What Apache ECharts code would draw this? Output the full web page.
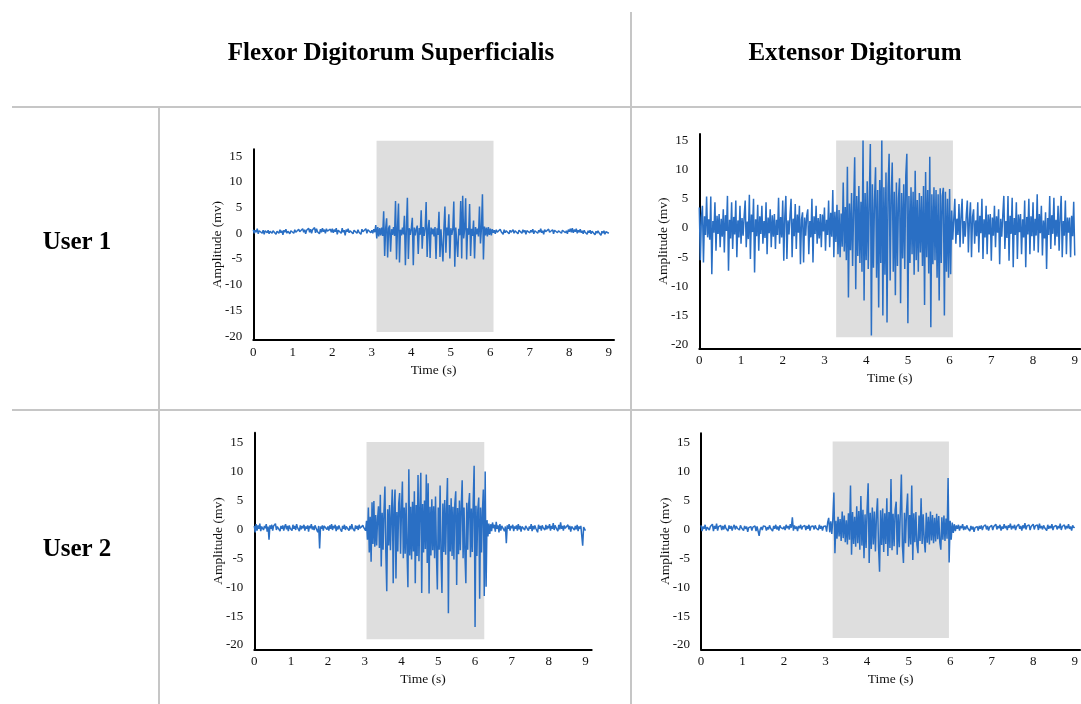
<!DOCTYPE html>
<html>
<head>
<meta charset="utf-8">
<script src="https://cdn.jsdelivr.net/npm/echarts@6/dist/echarts.min.js"></script>
<style>
html,body{margin:0;padding:0;background:#fff;}
#chart{width:1081px;height:704px;}
</style>
</head>
<body>
<div id="chart"></div>
<script>
// ---------------- DATA ----------------
const timeStep = 0.025; // seconds between samples
const xTickLabels = [0,1,2,3,4,5,6,7,8,9];
const yTickLabels = [-20,-15,-10,-5,0,5,10,15];
const columnTitles = ['Flexor Digitorum Superficialis', 'Extensor Digitorum'];
const rowTitles = ['User 1', 'User 2'];
const xAxisTitle = 'Time (s)';
const yAxisTitle = 'Amplitude (mv)';

// Flexor Digitorum Superficialis, User 1 (mV)
const fdsUser1 = [
0.7,0.0,0.6,0.2,0.9,-0.1,0.5,0.3,0.8,0.0,0.6,-0.2,0.5,0.8,0.1,0.6,-0.1,0.4,0.7,0.0,0.5,0.2,0.8,-0.2,0.4,0.6,0.0,0.7,0.1,0.5,-0.3,0.6,0.2,0.8,0.0,0.4,0.7,-0.1,0.5,0.3,
0.6,0.0,0.7,0.2,0.5,-0.1,0.8,0.3,0.6,0.1,0.9,0.2,0.7,-0.1,0.6,0.3,1.0,0.2,0.8,0.0,0.7,0.4,1.1,0.1,0.9,0.3,0.6,-0.1,0.8,0.2,1.0,0.3,0.7,0.0,0.9,0.4,0.6,0.1,0.8,0.2,
0.9,0.1,0.7,0.3,1.0,-0.2,0.6,0.4,0.8,0.0,1.0,0.2,0.6,-0.4,0.7,0.3,0.9,0.1,0.5,0.2,0.8,-0.1,0.6,0.3,0.9,0.0,0.7,0.2,0.5,-0.2,0.8,0.3,0.6,0.1,0.9,0.0,0.7,0.4,0.6,0.1,
0.6,0.0,0.8,0.2,1.6,-1.0,1.2,-0.6,1.0,-0.4,1.1,-0.5,4.3,-4.4,0.9,2.9,-4.7,1.0,1.5,-3.6,0.8,-0.3,1.2,-0.5,6.3,-5.1,1.0,5.8,-5.7,0.7,-0.4,1.1,-0.2,3.4,-6.2,0.9,6.9,-5.0,1.0,-0.3,
0.9,3.0,-6.2,1.1,-0.4,0.8,1.5,-4.0,1.0,-0.3,4.5,-3.0,1.2,-0.5,0.9,6.1,-4.6,0.8,2.6,-4.8,1.1,-0.2,0.9,-0.6,1.2,-5.0,1.0,-0.3,4.2,-4.6,0.8,1.0,-5.5,0.9,5.2,-3.8,1.1,-0.4,3.7,-4.9,
1.0,-0.3,0.8,6.2,-6.5,1.1,1.0,-4.6,0.9,-0.4,6.3,-4.9,7.3,-1.0,0.8,6.8,-5.1,1.0,-0.3,5.7,-4.4,0.9,-0.5,2.5,-4.9,1.2,-0.2,0.9,-0.6,5.2,-2.0,1.0,7.6,-5.1,1.3,-0.4,1.1,-0.6,1.2,-0.3,
0.9,-0.4,0.8,0.1,0.6,-0.1,0.7,0.2,0.5,0.0,0.8,0.3,0.6,-0.2,0.7,0.1,0.5,0.3,0.8,-0.1,0.6,0.2,0.4,0.7,0.0,0.5,0.2,0.8,-0.1,0.6,0.3,0.5,0.0,0.7,0.2,0.6,-0.2,0.5,0.3,0.7,
0.1,0.6,0.2,0.8,-0.1,0.5,0.3,0.7,0.0,0.6,0.2,0.9,0.1,0.5,-0.2,0.7,0.3,0.6,0.0,0.8,0.2,0.5,0.1,0.7,-0.1,0.6,0.3,0.8,0.1,0.5,0.2,0.7,0.0,0.6,0.4,0.8,0.1,0.5,-0.1,0.7,
0.3,0.9,0.2,1.0,0.1,0.7,0.3,0.9,0.0,0.6,0.2,0.8,0.1,0.5,-0.1,0.6,0.2,0.4,-0.2,0.5,0.1,0.6,-0.1,0.4,0.2,0.5,-0.3,0.4,0.0,0.5,0.1,0.3,-0.4,0.4,0.0,0.5,-0.2,0.3,0.1,0.4,0.0
];

// Extensor Digitorum, User 1 (mV)
const edUser1 = [
3.5,-5.5,1.8,3.8,-5.9,2.0,-1.2,5.4,-1.6,1.5,-2.0,5.4,-7.9,1.2,-0.8,4.4,-3.9,2.1,-1.0,2.4,-3.3,1.6,-1.5,3.2,-4.2,2.2,-0.5,5.5,-7.3,1.4,-1.8,4.4,-3.6,1.9,-1.1,4.7,-5.0,1.3,-1.6,3.8,
-2.7,1.7,-1.3,2.0,4.7,-3.3,1.1,-1.9,5.7,-5.3,2.3,-0.7,5.0,-7.6,1.5,-1.4,4.0,-3.9,2.0,-1.0,3.8,-2.7,1.2,-1.7,4.4,-4.5,1.8,-0.9,3.2,-3.3,2.2,-1.5,2.4,-3.6,1.4,-1.2,5.2,-2.7,1.9,-1.6,
4.7,-5.6,2.0,5.5,-5.3,1.3,-1.1,2.2,5.0,-5.0,1.6,-1.4,4.1,-3.6,2.3,-0.8,3.8,-6.2,1.5,2.7,-5.9,1.8,-1.3,2.1,3.2,-4.5,1.2,-1.6,5.0,-5.9,2.0,-1.0,3.8,-2.7,1.7,-1.8,2.4,-3.3,2.3,-0.6,
3.5,-3.9,1.4,-1.2,4.7,-3.3,2.6,-1.5,6.5,-5.0,2.8,-2.4,4.0,-4.5,3.1,-5.0,2.5,-3.2,7.8,-4.0,3.6,-5.5,10.5,-11.9,4.2,-3.8,6.0,-6.5,3.5,12.1,-10.5,5.5,-4.8,7.2,-6.0,4.5,-7.5,15.0,-12.4,6.0,
-5.5,8.0,-7.0,5.2,14.4,-18.4,7.5,-6.8,4.8,10.4,-8.5,6.5,-13.6,8.2,-6.0,15.0,-15.0,7.0,-8.0,9.5,-16.2,6.8,12.7,-9.0,5.5,11.2,-7.5,6.2,-11.5,7.8,-6.5,5.0,8.5,-12.9,6.0,-5.2,7.5,-7.0,9.0,12.7,
-16.3,5.5,-6.0,7.0,-4.5,6.2,-8.0,9.8,-5.5,4.8,-7.5,6.0,-4.2,5.5,-6.5,7.2,-13.2,9.6,-5.0,6.5,-7.8,12.2,-17.0,5.8,-6.2,7.0,-5.5,6.5,-8.5,5.8,-12.4,6.8,-6.0,5.5,6.9,-15.0,6.2,-7.5,5.0,-8.5,
6.7,-7.9,3.0,-2.0,1.5,5.0,-2.7,1.6,-1.2,4.1,-3.3,2.0,5.0,-2.7,1.2,-1.5,2.2,4.7,-4.2,1.4,4.4,-5.0,1.9,3.2,-2.7,1.3,-1.4,4.4,-4.2,2.1,-0.9,5.0,-5.3,1.5,-1.6,3.8,-4.5,2.3,-1.1,2.4,
-5.6,1.8,-1.3,3.8,-3.3,2.0,-0.8,3.2,-6.2,1.6,-1.5,2.2,5.5,-3.6,1.2,-1.7,5.5,-5.6,2.1,-1.0,5.2,-6.7,1.7,-1.2,4.4,-5.3,2.3,-0.7,2.4,-4.5,1.5,-1.6,4.7,-6.7,1.9,-1.1,5.0,-4.5,2.0,-1.4,
4.4,-3.9,1.6,-1.3,5.8,-4.2,2.4,-0.9,3.8,-4.7,1.3,-1.8,2.7,-7.0,1.7,-1.2,5.5,-3.6,2.2,-1.0,5.2,-3.0,1.4,-1.5,3.8,-3.9,2.0,5.5,-5.0,1.2,-1.3,4.7,-4.5,1.8,-0.8,1.8,-5.0,2.1,-1.4,4.5,-4.7
];

// Flexor Digitorum Superficialis, User 2 (mV)
const fdsUser2 = [
0.6,-0.5,0.9,-0.2,0.7,0.1,1.0,-0.3,0.5,0.8,-0.1,0.6,0.2,0.9,-0.4,0.5,-1.8,0.7,0.1,0.8,-0.2,0.6,0.3,1.0,-0.1,0.5,0.2,0.8,-0.3,0.6,0.1,0.7,-0.2,0.5,0.9,0.0,0.6,-0.3,0.7,0.2,
0.5,-0.2,0.8,0.1,0.6,-0.1,0.9,0.3,0.5,-0.3,0.7,0.0,0.6,0.2,0.8,-0.2,0.5,0.1,0.7,-0.4,0.6,0.2,0.9,0.0,0.5,-0.1,0.7,0.3,0.4,-0.5,0.6,-3.3,0.5,0.1,0.7,-0.2,0.6,0.3,0.8,0.0,
0.5,-0.2,0.7,0.1,0.9,-0.1,0.6,0.2,0.8,-0.3,0.5,0.0,0.7,0.2,0.4,-0.4,0.6,0.1,0.8,-0.1,0.5,0.3,0.7,-0.2,0.6,0.0,0.9,0.2,0.5,-0.3,0.7,0.1,0.6,-0.1,0.8,0.2,0.5,0.0,0.7,0.3,
0.5,-0.2,1.5,-1.8,3.8,-4.0,2.2,-5.6,4.7,-2.5,4.9,-3.0,2.5,-2.8,1.8,4.0,-3.2,6.0,-6.4,2.9,-3.5,3.2,7.4,-4.0,-10.7,3.5,-2.8,4.2,-3.6,2.5,6.9,-9.3,3.8,6.9,-8.5,3.0,-3.8,4.5,6.3,-4.2,
3.5,8.3,-5.0,3.8,-4.2,4.6,-3.5,-10.0,10.4,-4.5,3.9,-5.2,4.8,-3.8,6.6,-9.3,4.2,-4.6,9.4,-5.5,3.6,9.8,-11.0,4.4,-4.0,5.0,-3.4,9.5,-5.8,8.0,-11.1,3.9,-4.5,5.2,-3.6,4.0,-5.0,5.7,-4.2,-10.4,
3.8,-3.5,7.6,-4.8,-11.0,4.5,-3.9,5.1,-4.4,3.6,8.9,-14.5,4.2,-3.8,5.4,-4.6,3.9,-5.2,4.4,6.6,-9.6,3.7,-4.3,5.0,-3.6,4.1,8.5,-5.0,3.8,-4.4,-9.3,4.6,-3.5,4.2,6.3,-4.8,3.6,-3.9,4.9,11.0,
-16.9,4.1,-4.6,3.4,5.5,-12.0,3.8,-4.0,3.2,6.9,-11.5,10.0,-9.9,1.6,-1.2,1.0,-0.8,0.9,-0.3,1.2,0.2,0.8,-0.4,1.3,0.1,0.7,-0.5,0.9,-0.2,0.6,0.3,0.8,-0.3,0.5,-2.4,0.7,0.1,0.9,-0.2,0.6,
0.2,0.8,-0.3,0.5,0.1,0.7,-0.2,0.9,0.0,0.6,-0.4,0.5,0.2,0.8,-0.1,0.6,0.3,0.7,-0.2,0.5,0.1,0.9,-0.3,0.6,0.0,0.7,0.2,0.5,-0.5,0.8,0.1,0.6,-0.2,0.7,0.3,0.5,-0.1,0.8,0.0,0.6,
0.2,0.9,-0.2,0.6,0.1,1.1,-0.1,0.7,0.3,0.5,-0.3,0.8,0.0,1.2,0.1,0.6,-0.2,0.7,0.2,0.5,-0.1,0.8,0.0,0.6,-0.4,0.5,0.2,0.7,-0.1,0.6,0.0,0.8,-0.3,0.5,0.1,0.6,0.9,-2.8,0.4,0.7,-0.2
];

// Extensor Digitorum, User 2 (mV)
const edUser2 = [
0.7,-0.3,0.5,0.1,0.8,-0.2,0.4,0.6,-0.1,0.5,0.2,0.9,-0.3,0.6,0.1,1.0,-0.2,0.5,0.3,0.7,-0.1,0.6,0.0,0.8,0.2,0.5,-0.3,0.7,0.1,0.6,-0.2,0.4,0.8,0.0,0.6,0.2,0.5,-0.1,0.7,0.3,
0.4,-0.2,0.6,0.1,0.5,-0.4,0.3,0.0,0.5,-0.2,0.4,0.1,0.6,-0.3,0.5,0.2,-1.1,0.0,0.4,-0.1,0.6,0.3,0.5,-0.2,0.4,0.0,0.7,0.2,0.5,-0.3,0.6,0.1,0.8,0.0,0.5,-0.2,0.7,0.3,0.6,0.1,
0.5,-0.1,0.8,0.2,0.6,0.0,0.9,0.3,2.1,-0.2,0.7,0.1,0.5,-0.3,0.6,0.2,0.8,0.0,0.5,0.3,0.7,-0.1,0.6,0.1,0.8,-0.2,0.5,0.3,0.6,0.0,0.7,0.2,0.5,-0.1,0.8,0.1,0.6,-0.2,0.5,0.3,
0.6,-0.4,1.2,2.0,-0.5,1.4,-0.8,1.8,6.4,-4.1,1.5,-1.6,2.2,-1.2,1.8,-2.0,3.1,-1.5,2.4,-2.2,1.6,-2.6,2.8,-1.8,7.6,-4.4,3.0,-2.5,2.2,-3.0,4.0,-2.4,3.2,-3.5,5.8,-2.8,3.4,-5.0,2.6,-3.2,
3.5,8.0,-5.8,2.9,-3.4,3.8,-2.6,3.1,-3.8,2.4,5.4,-3.0,-7.3,3.3,-2.7,3.6,-3.9,2.8,-2.5,5.4,-4.6,3.0,-3.2,8.7,-3.6,2.7,-2.9,3.4,4.8,-4.4,2.6,-3.1,3.2,9.5,-2.8,-5.8,2.9,-2.4,3.3,6.2,
-3.0,2.5,-2.6,7.6,-5.3,2.8,-2.2,3.0,-2.7,-4.1,2.4,-2.0,5.4,-2.5,2.6,-1.8,-4.0,2.9,-2.3,2.2,-2.6,3.1,-1.9,2.5,-2.4,2.0,-2.1,2.7,-1.7,2.3,-2.2,-3.5,2.1,-1.8,2.4,-2.0,1.9,-1.6,8.9,-5.7,
1.5,-1.8,1.2,-0.6,0.9,-0.3,0.7,0.1,0.8,-0.2,0.6,0.2,0.9,-0.1,0.5,0.0,0.7,0.2,0.4,-0.3,0.6,0.0,0.5,-0.4,0.3,0.1,0.5,-0.2,0.6,0.1,0.7,-0.1,0.5,0.2,0.8,0.0,0.6,-0.2,0.4,0.1,
0.7,-0.1,0.5,0.3,0.9,0.0,0.6,0.2,0.8,-0.2,0.5,0.1,0.9,0.2,0.6,-0.1,0.7,0.3,1.0,0.0,0.6,0.2,0.8,-0.1,0.5,0.3,0.9,0.1,0.6,-0.2,0.7,0.2,1.1,0.0,0.6,0.3,0.8,-0.1,0.5,0.2,
0.9,0.0,0.6,0.3,0.8,-0.1,1.0,0.2,0.6,0.0,0.7,0.3,0.5,-0.2,0.8,0.1,0.6,0.2,0.9,-0.1,0.5,0.3,0.7,0.0,0.6,0.2,1.0,-0.1,0.5,0.3,0.8,0.0,0.6,0.2,0.9,0.1,0.5,-0.2,0.7,0.3,0.4
];

// Highlighted (grey) activity windows: [start s, end s, bottom mV, top mV]
const shadeFdsUser1 = [3.12, 6.08, -19.2, 18.0];
const shadeEdUser1  = [3.28, 6.08, -18.7, 15.0];
const shadeFdsUser2 = [3.05, 6.25, -19.0, 15.1];
const shadeEdUser2  = [3.17, 5.97, -18.8, 15.2];

// ---------------- LAYOUT / STYLE ----------------
const FONT = "'Liberation Serif','Times New Roman',serif";
const LINE_COLOR = '#2a6fc4';
const SHADE_COLOR = '#dedede';
const TABLE_COLOR = '#c6c6c6';

const panels = [
  {values: fdsUser1, shade: shadeFdsUser1, grid:{left:253.3, top:149.3, width:360.7, height:190.7}, xMax:9.13, yMin:-20.76, yMax:16.34},
  {values: edUser1,  shade: shadeEdUser1,  grid:{left:699.3, top:134,   width:382.5, height:214.3}, xMax:9.13, yMin:-20.6,  yMax:16.1},
  {values: fdsUser2, shade: shadeFdsUser2, grid:{left:254.3, top:432.7, width:337.4, height:216.6}, xMax:9.17, yMin:-20.74, yMax:16.73},
  {values: edUser2,  shade: shadeEdUser2,  grid:{left:701,   top:433.3, width:382.5, height:216},   xMax:9.13, yMin:-20.74, yMax:16.63}
];

const grids = [], xAxes = [], yAxes = [], series = [];
panels.forEach((p, k) => {
  grids.push(Object.assign({containLabel:false}, p.grid));
  xAxes.push({
    type:'value', gridIndex:k, min:0, max:p.xMax,
    axisLine:{show:true, onZero:false, lineStyle:{color:'#000', width:2}},
    axisTick:{show:false}, splitLine:{show:false},
    axisLabel:{customValues:xTickLabels, color:'#111', fontFamily:FONT, fontSize:13, margin:6},
    name:xAxisTitle, nameLocation:'middle', nameGap:23, nameMoveOverlap:false,
    nameTextStyle:{color:'#111', fontFamily:FONT, fontSize:13.5}
  });
  yAxes.push({
    type:'value', gridIndex:k, min:p.yMin, max:p.yMax,
    axisLine:{show:true, lineStyle:{color:'#000', width:2}},
    axisTick:{show:false}, splitLine:{show:false},
    axisLabel:{customValues:yTickLabels, color:'#111', fontFamily:FONT, fontSize:13, margin:11},
    name:yAxisTitle, nameLocation:'middle', nameGap:29, nameMoveOverlap:false,
    nameTextStyle:{color:'#111', fontFamily:FONT, fontSize:13.5}
  });
  series.push({
    type:'custom', xAxisIndex:k, yAxisIndex:k, z:1, silent:true, clip:false,
    data:[p.shade],
    renderItem:(params, api) => {
      const a = api.coord([api.value(0), api.value(3)]);
      const b = api.coord([api.value(1), api.value(2)]);
      return {type:'rect', shape:{x:a[0], y:a[1], width:b[0]-a[0], height:b[1]-a[1]}, style:{fill:SHADE_COLOR}};
    }
  });
  series.push({
    type:'line', xAxisIndex:k, yAxisIndex:k, z:3,
    showSymbol:false, symbol:'none', sampling:null,
    lineStyle:{color:LINE_COLOR, width:1.5},
    data:p.values.map((v, i) => [i * timeStep, v])
  });
});

const titleStyle = {fontFamily:FONT, fontSize:25, fontWeight:'bold', fill:'#000', textAlign:'center', textVerticalAlign:'middle'};
const graphic = [
  {type:'line', shape:{x1:12, y1:107, x2:1081, y2:107}, style:{stroke:TABLE_COLOR, lineWidth:2}},
  {type:'line', shape:{x1:12, y1:410, x2:1081, y2:410}, style:{stroke:TABLE_COLOR, lineWidth:2}},
  {type:'line', shape:{x1:631, y1:12, x2:631, y2:704}, style:{stroke:TABLE_COLOR, lineWidth:2}},
  {type:'line', shape:{x1:159, y1:107, x2:159, y2:704}, style:{stroke:TABLE_COLOR, lineWidth:2}},
  {type:'text', x:391, y:54, style:Object.assign({text:columnTitles[0]}, titleStyle)},
  {type:'text', x:855, y:54, style:Object.assign({text:columnTitles[1]}, titleStyle)},
  {type:'text', x:77, y:243, style:Object.assign({text:rowTitles[0]}, titleStyle)},
  {type:'text', x:77, y:550, style:Object.assign({text:rowTitles[1]}, titleStyle)}
];

const chart = echarts.init(document.getElementById('chart'), null, {renderer:'canvas'});
chart.setOption({
  animation:false,
  backgroundColor:'#ffffff',
  grid:grids, xAxis:xAxes, yAxis:yAxes, series:series, graphic:graphic
});
</script>
</body>
</html>
